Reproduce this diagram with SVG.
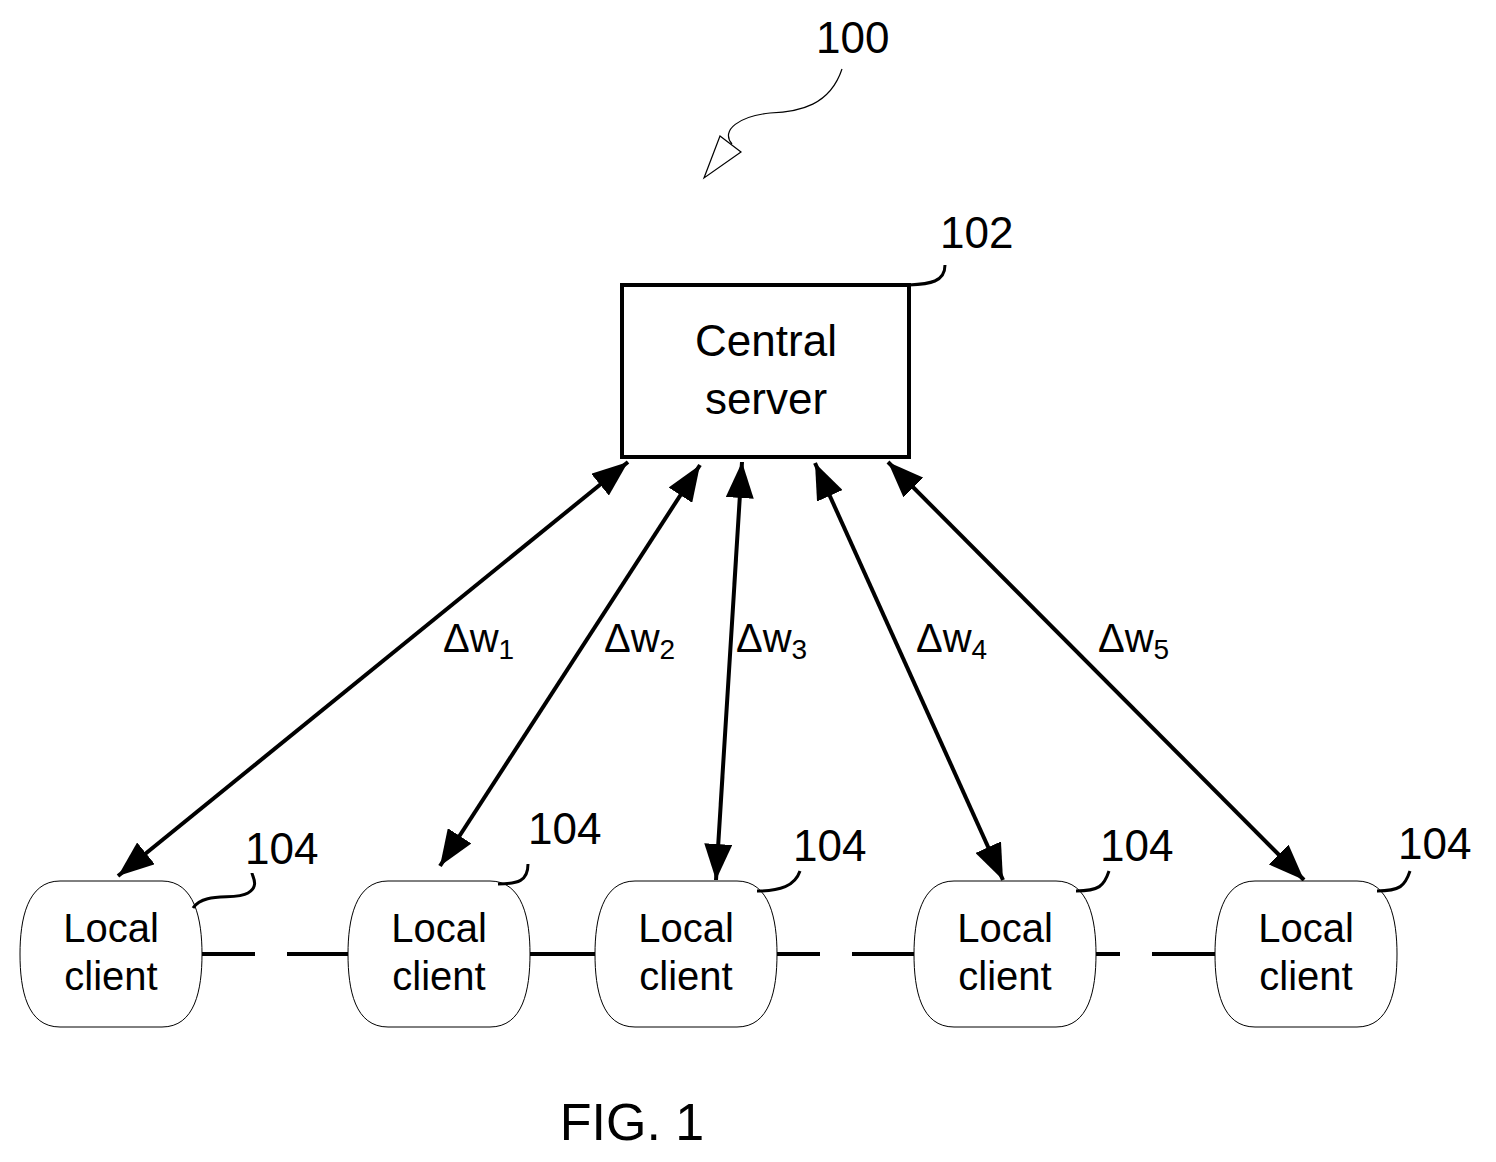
<svg xmlns="http://www.w3.org/2000/svg" width="1496" height="1162" viewBox="0 0 1496 1162">
<defs>
<style>
text{font-family:"Liberation Sans",Arial,sans-serif;fill:#000}
.t{font-size:40px;text-anchor:middle}
.ts{font-size:44px;text-anchor:middle}
.r{font-size:44px}
.d{font-size:40px}
.s{font-size:28px}
.c{fill:#fff;stroke:#000;stroke-width:1}
.l{stroke:#000;stroke-width:4;fill:none}
.th{stroke:#000;stroke-width:3;fill:none}
</style>
<marker id="hb" viewBox="0 0 36 28" refX="36" refY="14" markerWidth="36" markerHeight="28" markerUnits="userSpaceOnUse" orient="auto-start-reverse">
<path d="M0,0 L36,14 L0,28 Z" fill="#000"/>
</marker>
<path id="cl" d="M40,0 H142 C175,0 182,39 182,73 C182,109 175,146 142,146 H40 C7,146 0,109 0,73 C0,39 7,0 40,0 Z"/>
</defs>
<g id="ref100">
<text x="816" y="53" class="r">100</text>
<path d="M842,69 C830,105 800,112 770,113 C740,116 720,130 732,144" fill="none" stroke="#000" stroke-width="1.2"/>
<path d="M720,136 L741,152 L704,178 Z" fill="#fff" stroke="#000" stroke-width="1.2"/>
</g>
<g id="server">
<rect x="622" y="285" width="287" height="172" fill="#fff" stroke="#000" stroke-width="4"/>
<text x="766" y="356" class="ts">Central</text>
<text x="766" y="414" class="ts">server</text>
<path d="M909,285 C930,284 945,282 945,265" class="th"/>
<text x="940" y="248" class="r">102</text>
</g>
<g id="connectors">
<g style="stroke:#000;stroke-width:4;fill:none;marker-start:url(#hb);marker-end:url(#hb)">
<line x1="628" y1="462" x2="118" y2="876"/>
<line x1="700" y1="465" x2="440" y2="866"/>
<line x1="742" y1="462" x2="716" y2="880"/>
<line x1="815" y1="463" x2="1003" y2="880"/>
<line x1="888" y1="462" x2="1304" y2="880"/>
</g>
<path class="l" d="M202,954 H255 M287,954 H348 M530,954 H595 M777,954 H820 M852,954 H914 M1096,954 H1120 M1152,954 H1215"/>
</g>
<g id="labels">
<text x="443" y="652" class="d">Δw<tspan class="s" dy="7">1</tspan></text>
<text x="604" y="652" class="d">Δw<tspan class="s" dy="7">2</tspan></text>
<text x="736" y="652" class="d">Δw<tspan class="s" dy="7">3</tspan></text>
<text x="916" y="652" class="d">Δw<tspan class="s" dy="7">4</tspan></text>
<text x="1098" y="652" class="d">Δw<tspan class="s" dy="7">5</tspan></text>
</g>
<g id="client1" transform="translate(20,881)">
<use href="#cl" class="c"/><text x="91" y="61" class="t">Local</text><text x="91" y="109" class="t">client</text>
<path d="M173,27 C185,10 215,20 228,12 C240,5 232,-5 232,-8" class="th"/>
<text x="225" y="-17" class="r">104</text>
</g>
<g id="client2" transform="translate(348,881)">
<use href="#cl" class="c"/><text x="91" y="61" class="t">Local</text><text x="91" y="109" class="t">client</text>
<path d="M150,3 C170,3 180,0 180,-17" class="th"/>
<text x="180" y="-37" class="r">104</text>
</g>
<g id="client3" transform="translate(595,881)">
<use href="#cl" class="c"/><text x="91" y="61" class="t">Local</text><text x="91" y="109" class="t">client</text>
<path d="M162,10 C185,10 200,5 205,-10" class="th"/>
<text x="198" y="-20" class="r">104</text>
</g>
<g id="client4" transform="translate(914,881)">
<use href="#cl" class="c"/><text x="91" y="61" class="t">Local</text><text x="91" y="109" class="t">client</text>
<path d="M162,10 C185,10 190,5 195,-10" class="th"/>
<text x="186" y="-20" class="r">104</text>
</g>
<g id="client5" transform="translate(1215,881)">
<use href="#cl" class="c"/><text x="91" y="61" class="t">Local</text><text x="91" y="109" class="t">client</text>
<path d="M162,10 C185,10 190,5 195,-10" class="th"/>
<text x="183" y="-22" class="r">104</text>
</g>
<text x="632" y="1140" text-anchor="middle" style="font-size:52px">FIG. 1</text>
</svg>
